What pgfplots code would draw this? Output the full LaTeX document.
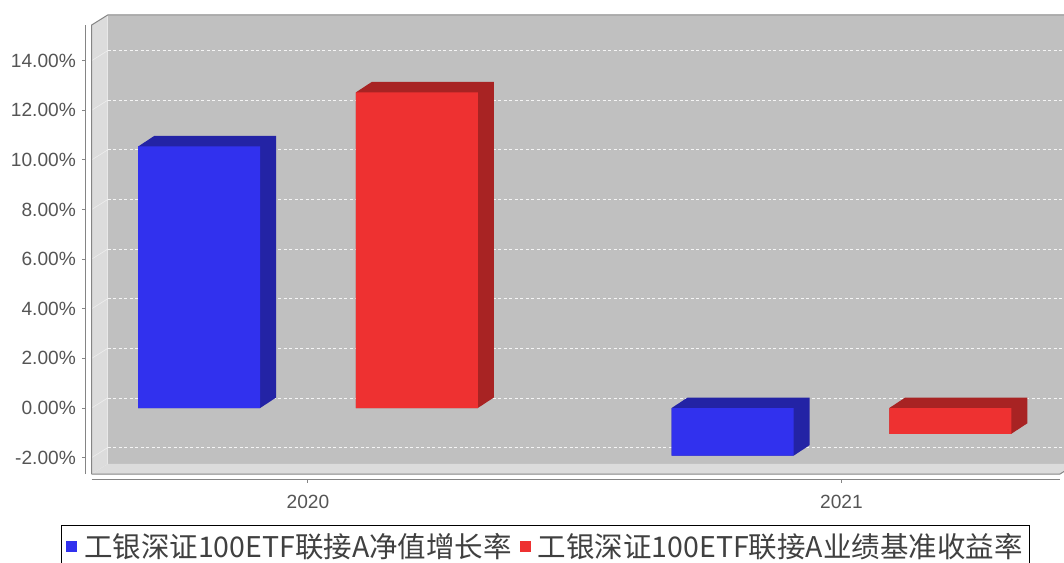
\documentclass[border=0pt]{standalone}
\usepackage{pgfplots}
\pgfplotsset{compat=1.18}
\usepackage{pgfplotstable}
\usepackage{fontspec}
\setmainfont{Liberation Sans}
\newfontfamily\cjk{Noto Sans CJK SC}
\definecolor{fblue}{HTML}{3131EE}
\definecolor{dblue}{HTML}{2323A5}
\definecolor{fred}{HTML}{EE3131}
\definecolor{dred}{HTML}{A82323}
\definecolor{wallback}{HTML}{C0C0C0}
\definecolor{wallside}{HTML}{DCDCDC}
\definecolor{edgegray}{HTML}{858585}
\definecolor{tickgray}{HTML}{555555}

\pgfplotstableread{
x blue red
0 10.54 12.72
1 -1.92 -1.04
}\data

% depth (top and side faces) of a 3D bar, drawn through the axis from the table value
\newcommand\depthbar[4]{%
  \pgfplotstablegetelem{#1}{#2}\of\data
  \pgfmathsetmacro\vv{\pgfplotsretval}%
  \pgfmathsetmacro\lo{min(0,\vv)}%
  \pgfmathsetmacro\hi{max(0,\vv)}%
  \pgfmathsetmacro\lod{\lo+0.4232}%
  \pgfmathsetmacro\hid{\hi+0.4232}%
  \pgfmathsetmacro\xa{#3-0.11435}%
  \pgfmathsetmacro\xb{#3+0.11435}%
  \pgfmathsetmacro\xc{#3+0.11435+0.0300}%
  \pgfmathsetmacro\xd{#3-0.11435+0.0300}%
  \edef\doit{\noexpand\addplot[fill=#4, draw=none, forget plot] coordinates {(\xa,\lo) (\xb,\lo) (\xc,\lod) (\xc,\hid) (\xd,\hid) (\xa,\hi)};}%
  \doit
}

\begin{document}
\begin{tikzpicture}
\path[use as bounding box] (0,0) rectangle (1064bp,563bp);
\begin{axis}[
  at={(91.7bp,89bp)}, anchor=south west,
  scale only axis, width=968.3bp, height=449bp,
  xmin=-0.4054, xmax=1.4096, ymin=-2.660, ymax=15.437,
  clip=false,
  axis line style={draw=none},
  tick style={draw=none},
  major tick length=0pt,
  xtick={0,1}, xticklabels={2020,2021},
  ytick={-2,0,2,4,6,8,10,12,14},
  /pgf/number format/assume math mode=true,
  yticklabel={\pgfmathprintnumber[fixed,fixed zerofill,precision=2]{\tick}\%},
  ticklabel style={font=\fontsize{19.2}{22}\selectfont, text=tickgray},
  yticklabel style={anchor=east, inner sep=0pt, xshift=-15.7bp},
  xticklabel style={anchor=north, inner sep=0pt, yshift=-21bp},
  legend image code/.code={\fill[#1] (0bp,-5.5bp) rectangle (11bp,5.5bp);},
  legend style={at={(axis description cs:-0.0320,-0.1136)}, anchor=north west,
    draw=black, line width=0.8bp, fill=white,
    font=\cjk\fontsize{28.6}{32}\selectfont, text=black!75,
    inner xsep=5bp, inner ysep=6bp,
    legend columns=2,
    /tikz/every odd column/.append style={column sep=5bp},
    /tikz/every even column/.append style={column sep=6bp}},
  legend cell align=left,
]
% back wall
\fill[wallback] ([shift={(16bp,10bp)}]rel axis cs:0,0) rectangle ([shift={(16bp,10bp)}]rel axis cs:1,1);
% left wall
\fill[wallside] (rel axis cs:0,0) -- ([shift={(16bp,10bp)}]rel axis cs:0,0) -- ([shift={(16bp,10bp)}]rel axis cs:0,1) -- (rel axis cs:0,1) -- cycle;
% floor
\fill[wallside] (rel axis cs:0,0) -- ([shift={(16bp,10bp)}]rel axis cs:0,0) -- ([shift={(16bp,10bp)}]rel axis cs:1,0) -- (rel axis cs:1,0) -- cycle;
% grid lines on the back wall and the left wall
\pgfplotsinvokeforeach{-2,0,2,4,6,8,10,12,14}{
  \draw[white, line width=0.8bp, dash pattern=on 3bp off 2.5bp, opacity=0.85]
    ([shift={(16bp,10bp)}]axis cs:-0.4054,#1) -- ([shift={(16bp,10bp)}]axis cs:1.4096,#1);
  \draw[white, line width=0.6bp, opacity=0.5]
    (axis cs:-0.4054,#1) -- ([shift={(16bp,10bp)}]axis cs:-0.4054,#1);
  \draw[edgegray, line width=1bp] ([xshift=-9.7bp]axis cs:-0.4054,#1) -- ([xshift=-5.7bp]axis cs:-0.4054,#1);
}
% wall edges
\draw[edgegray, line width=1bp] (rel axis cs:0,0) -- (rel axis cs:0,1) -- ([shift={(16bp,10bp)}]rel axis cs:0,1) -- ([shift={(16bp,10bp)}]rel axis cs:1,1);
\draw[edgegray, line width=1bp] (rel axis cs:0,0) -- (rel axis cs:1,0) -- ([shift={(16bp,10bp)}]rel axis cs:1,0);
% axis lines
\draw[edgegray, line width=1bp] ([xshift=-5.7bp]rel axis cs:0,0) -- ([xshift=-5.7bp]rel axis cs:0,1);
\draw[edgegray, line width=1bp] ([yshift=-5bp]rel axis cs:0,0) -- ([yshift=-5bp]rel axis cs:1,0);
\draw[edgegray, line width=1bp] ([yshift=-5bp]axis cs:0,-2.660) -- ([yshift=-9bp]axis cs:0,-2.660);
\draw[edgegray, line width=1bp] ([yshift=-5bp]axis cs:1,-2.660) -- ([yshift=-9bp]axis cs:1,-2.660);
% bars: depth faces
\depthbar{0}{blue}{-0.204}{dblue}
\depthbar{1}{blue}{0.796}{dblue}
\depthbar{0}{red}{0.204}{dred}
\depthbar{1}{red}{1.204}{dred}
% bars: front faces
\addplot[ybar, bar width=0.2287, bar shift=-0.204, fill=fblue, draw=none, forget plot] table[x=x, y=blue] {\data};
\addplot[ybar, bar width=0.2287, bar shift=0.204, fill=fred, draw=none, forget plot] table[x=x, y=red] {\data};
\addlegendimage{fill=fblue, draw=none}
\addlegendentry{工银深证100ETF联接A净值增长率}
\addlegendimage{fill=fred, draw=none}
\addlegendentry{工银深证100ETF联接A业绩基准收益率}
\end{axis}
\end{tikzpicture}
\end{document}
